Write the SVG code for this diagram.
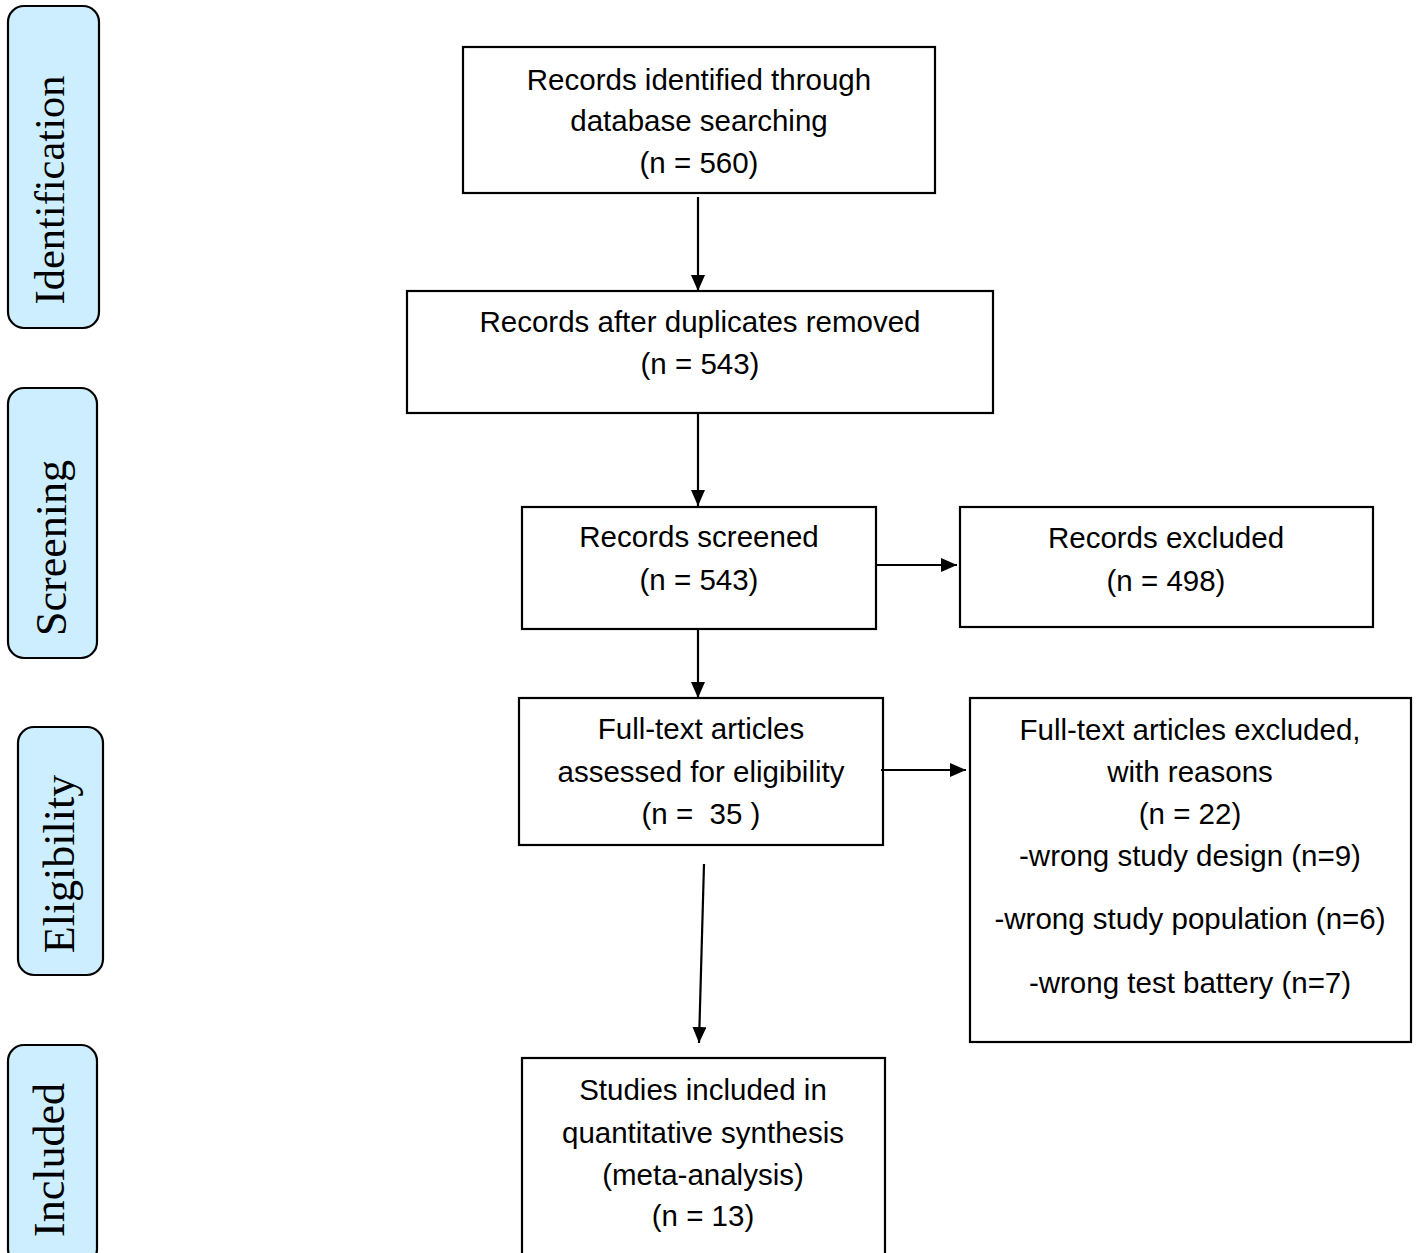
<svg xmlns="http://www.w3.org/2000/svg" width="1418" height="1253" viewBox="0 0 1418 1253">
<style>
.box{fill:#fff;stroke:#000;stroke-width:2.2}
.phase{fill:#cceeff;stroke:#000;stroke-width:2.2}
.t{font-family:"Liberation Sans",Arial,sans-serif;font-size:29.5px;fill:#000;text-anchor:middle}
.p{font-family:"Liberation Serif","Times New Roman",serif;font-size:44px;fill:#000;text-anchor:middle}
.c{stroke:#000;stroke-width:2.2;fill:none}
</style>
<defs>
<marker id="ah" markerWidth="16" markerHeight="14" refX="16" refY="7" orient="auto" markerUnits="userSpaceOnUse">
<path d="M0,0 L16,7 L0,14 Z" fill="#000"/>
</marker>
</defs>
<rect width="1418" height="1253" fill="#fff"/>

<g id="phase-identification">
<rect class="phase" x="8" y="6" width="91" height="322" rx="16"/>
<text class="p" style="font-size:42.5px" transform="translate(64,190) rotate(-90)">Identification</text>
</g>
<g id="phase-screening">
<rect class="phase" x="8" y="388" width="89" height="270" rx="16"/>
<text class="p" transform="translate(66,548) rotate(-90)">Screening</text>
</g>
<g id="phase-eligibility">
<rect class="phase" x="18" y="727" width="85" height="248" rx="16"/>
<text class="p" transform="translate(74,864) rotate(-90)">Eligibility</text>
</g>
<g id="phase-included">
<rect class="phase" x="8" y="1045" width="89" height="220" rx="16"/>
<text class="p" transform="translate(64,1160) rotate(-90)">Included</text>
</g>

<g id="n1">
<rect class="box" x="463" y="47" width="472" height="146"/>
<text class="t" x="699" y="90">Records identified through</text>
<text class="t" x="699" y="131">database searching</text>
<text class="t" x="699" y="173">(n = 560)</text>
</g>
<g id="n2">
<rect class="box" x="407" y="291" width="586" height="122"/>
<text class="t" x="700" y="332">Records after duplicates removed</text>
<text class="t" x="700" y="374">(n = 543)</text>
</g>
<g id="n3">
<rect class="box" x="522" y="507" width="354" height="122"/>
<text class="t" x="699" y="547">Records screened</text>
<text class="t" x="699" y="590">(n = 543)</text>
</g>
<g id="n4">
<rect class="box" x="960" y="507" width="413" height="120"/>
<text class="t" x="1166" y="548">Records excluded</text>
<text class="t" x="1166" y="591">(n = 498)</text>
</g>
<g id="n5">
<rect class="box" x="519" y="698" width="364" height="147"/>
<text class="t" x="701" y="739">Full-text articles</text>
<text class="t" x="701" y="782">assessed for eligibility</text>
<text class="t" x="701" y="824" xml:space="preserve">(n =  35 )</text>
</g>
<g id="n6">
<rect class="box" x="970" y="698" width="441" height="344"/>
<text class="t" x="1190" y="740">Full-text articles excluded,</text>
<text class="t" x="1190" y="782">with reasons</text>
<text class="t" x="1190" y="824">(n = 22)</text>
<text class="t" x="1190" y="866">-wrong study design (n=9)</text>
<text class="t" x="1190" y="929">-wrong study population (n=6)</text>
<text class="t" x="1190" y="993">-wrong test battery (n=7)</text>
</g>
<g id="n7">
<rect class="box" x="522" y="1058" width="363" height="200"/>
<text class="t" x="703" y="1100">Studies included in</text>
<text class="t" x="703" y="1143">quantitative synthesis</text>
<text class="t" x="703" y="1185">(meta-analysis)</text>
<text class="t" x="703" y="1226">(n = 13)</text>
</g>

<g id="connectors">
<line class="c" x1="698" y1="197" x2="698" y2="291" marker-end="url(#ah)"/>
<line class="c" x1="698" y1="413" x2="698" y2="506" marker-end="url(#ah)"/>
<line class="c" x1="876" y1="565" x2="957" y2="565" marker-end="url(#ah)"/>
<line class="c" x1="698" y1="629" x2="698" y2="698" marker-end="url(#ah)"/>
<line class="c" x1="881" y1="770" x2="966" y2="770" marker-end="url(#ah)"/>
<line class="c" x1="704" y1="864" x2="699" y2="1043" marker-end="url(#ah)"/>
</g>
</svg>
